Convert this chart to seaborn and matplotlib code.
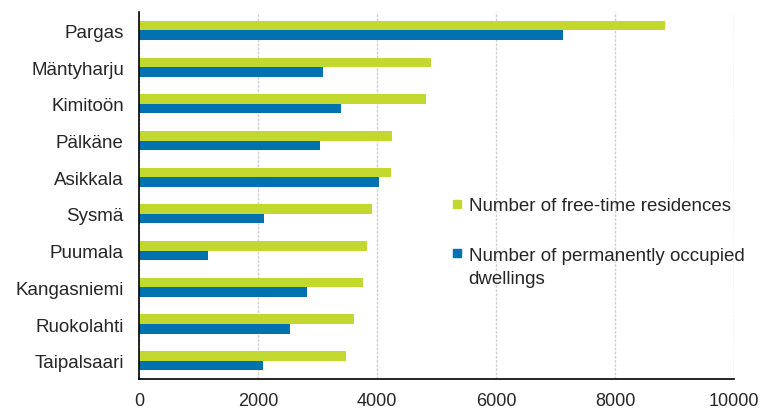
import pandas as pd
import seaborn as sns
import matplotlib.pyplot as plt
from matplotlib.lines import Line2D

municipalities = ["Pargas", "Mäntyharju", "Kimitoön", "Pälkäne", "Asikkala",
                  "Sysmä", "Puumala", "Kangasniemi", "Ruokolahti", "Taipalsaari"]
free_time = [8830, 4900, 4820, 4250, 4230, 3910, 3830, 3770, 3610, 3480]
permanent = [7115, 3095, 3390, 3040, 4035, 2105, 1165, 2825, 2535, 2075]
series = ["Number of free-time residences",
          "Number of permanently occupied dwellings"]
colors = ["#c2d82e", "#0072b0"]
x_ticks = [0, 2000, 4000, 6000, 8000, 10000]

df = pd.DataFrame({
    "municipality": municipalities * 2,
    "value": free_time + permanent,
    "series": [series[0]] * len(municipalities) + [series[1]] * len(municipalities),
})

sns.set_style("white")
plt.rcParams["font.family"] = ["Liberation Sans", "DejaVu Sans"]

fig = plt.figure(figsize=(7.64, 4.10), dpi=100)
ax = fig.add_axes([0.182, 0.073, 0.779, 0.895])

sns.barplot(data=df, y="municipality", x="value", hue="series",
            palette=colors, orient="h", width=0.52, legend=False, ax=ax,
            saturation=1, linewidth=0)

ax.set_xlim(0, 10000)
ax.set_ylim(9.5, -0.5)
ax.set_xticks(x_ticks)
ax.set_xticklabels([str(t) for t in x_ticks], fontsize=13)
ax.tick_params(axis="y", labelsize=13.5, length=0, pad=11)
ax.tick_params(axis="x", length=0, pad=9)
ax.set_xlabel("")
ax.set_ylabel("")
ax.xaxis.grid(True, color="#d0d0d0", linestyle=(0, (2, 1)), linewidth=1)
ax.set_axisbelow(True)
for s in ["top", "right"]:
    ax.spines[s].set_visible(False)
for s in ["left", "bottom"]:
    ax.spines[s].set_color("black")
    ax.spines[s].set_linewidth(1.2)

# legend: wrapped second label, marker aligned with its first line
first_lines = [series[0], "Number of permanently occupied"]
handles = [Line2D([], [], marker="s", linestyle="", markersize=6,
                  markerfacecolor=c, markeredgecolor=c) for c in colors]
leg = fig.legend(handles, first_lines, loc="upper left",
                 bbox_to_anchor=(0.579, 0.54), frameon=False, fontsize=13.5,
                 handlelength=0.6, handletextpad=0.3, labelspacing=1.75,
                 borderpad=0)
fig.canvas.draw()
bb = leg.get_texts()[1].get_window_extent().transformed(fig.transFigure.inverted())
fig.text(bb.x0, bb.y0 - 23 / 410, "dwellings", fontsize=13.5, va="bottom",
         ha="left")

fig.savefig("out.png", dpi=100)
